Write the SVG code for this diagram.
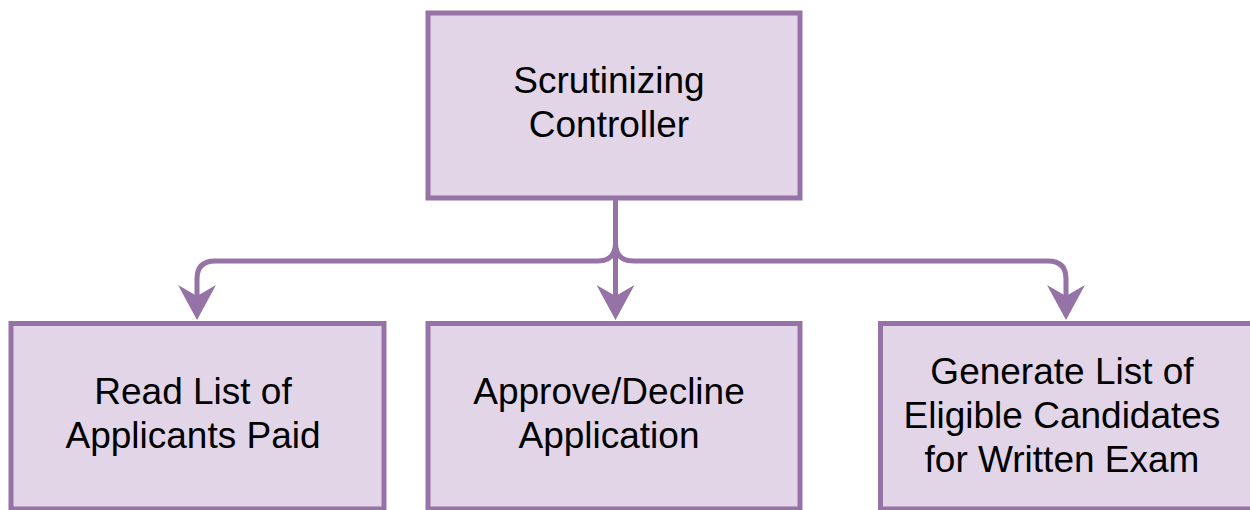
<svg xmlns="http://www.w3.org/2000/svg" width="1250" height="510" viewBox="0 0 1250 510">
<style>
.box{fill:#e1d5e7;stroke:#9673a6;stroke-width:5}
.lbl{font-family:"Liberation Sans",Arial,sans-serif;font-size:37px;fill:#000;text-anchor:middle}
.edge{fill:none;stroke:#9673a6;stroke-width:5}
</style>
<defs>
<marker id="arr" markerUnits="userSpaceOnUse" markerWidth="36" markerHeight="40" viewBox="0 0 36 40" refX="11" refY="19" orient="auto">
<path d="M0,0 L35,19 L0,38 L11,19 Z" fill="#9673a6"/>
</marker>
</defs>
<g id="connectors">
<path class="edge" d="M615.5 200 L615.5 243 Q615.5 261 597.5 261 L215 261 Q197 261 197 279 L197 296" marker-end="url(#arr)"/>
<path class="edge" d="M615.5 200 L615.5 296" marker-end="url(#arr)"/>
<path class="edge" d="M615.5 200 L615.5 243 Q615.5 261 633.5 261 L1048 261 Q1066 261 1066 279 L1066 296" marker-end="url(#arr)"/>
</g>
<g id="node-controller">
<rect class="box" x="428" y="13" width="372" height="185"/>
<text class="lbl" x="609" y="93">Scrutinizing</text>
<text class="lbl" x="609" y="137">Controller</text>
</g>
<g id="node-read">
<rect class="box" x="11" y="323.5" width="373" height="185.5"/>
<text class="lbl" x="193" y="404">Read List of</text>
<text class="lbl" x="193" y="448">Applicants Paid</text>
</g>
<g id="node-approve">
<rect class="box" x="428" y="323.5" width="372" height="185.5"/>
<text class="lbl" x="609" y="404">Approve/Decline</text>
<text class="lbl" x="609" y="448">Application</text>
</g>
<g id="node-generate">
<rect class="box" x="880.5" y="323.5" width="373" height="185.5"/>
<text class="lbl" x="1062" y="384">Generate List of</text>
<text class="lbl" x="1062" y="428">Eligible Candidates</text>
<text class="lbl" x="1062" y="472">for Written Exam</text>
</g>
</svg>
